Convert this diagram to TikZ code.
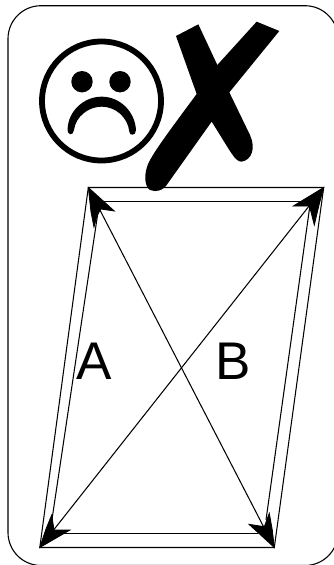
\documentclass[tikz,border=0pt]{standalone}
\usepackage{fontspec}
\setmainfont{Liberation Sans}
\tikzset{
  edgeline/.style={draw=black,line width=1.05pt},
  headfill/.style={fill=black,draw=black,line width=0.8pt,line join=miter},
  biglabel/.style={inner sep=0pt,font=\fontsize{53}{53}\selectfont,text=black},
  facepart/.style={fill=black,draw=none},
}
\begin{document}
\begin{tikzpicture}[x=1pt,y=-1pt]
\useasboundingbox (0,0) rectangle (334,565);
\clip (0,0) rectangle (334,565);
\fill[white] (0,0) rectangle (334,565);
% card
\draw[line width=1.1pt,rounded corners=33pt] (8,5.7) rectangle (338,565.5);
% face
\node[circle,draw=black,line width=5.8pt,minimum size=119pt,inner sep=0pt] (face) at (101.5,101) {};
\node[circle,facepart,minimum size=21.4pt,inner sep=0pt] (eyeL) at (82,81.7) {};
\node[circle,facepart,minimum size=21.4pt,inner sep=0pt] (eyeR) at (120,81.7) {};
\begin{scope}[scale=1/3]
% mouth
\fill[black] (203,385) .. controls (205,335) and (250,290) .. (305,290)
  .. controls (360,290) and (405,335) .. (408,390)
  .. controls (408,408) and (388,408) .. (388,395)
  .. controls (383,350) and (345,320) .. (305,320)
  .. controls (265,320) and (227,350) .. (222,390)
  .. controls (220,408) and (201,408) .. (203,385) -- cycle;
% cross
\fill[black] (528,108) -- (595,73) -- (652,195) -- (770,65) -- (838,93) -- (688,277)
  -- (750,405) .. controls (768,445) and (755,480) .. (725,485)
  .. controls (705,485) and (695,460) .. (635,365)
  -- (505,548) .. controls (490,572) and (470,578) .. (450,570)
  .. controls (432,558) and (432,520) .. (445,490)
  .. controls (460,460) and (480,430) .. (590,282) -- cycle;
\end{scope}
% corners
\coordinate (tl) at (88.3,187.5);
\coordinate (tr) at (323.7,187.5);
\coordinate (bl) at (39.8,547.5);
\coordinate (br) at (274.3,547.5);
\coordinate (tli) at (101,201.5);
\coordinate (tri) at (306,201.5);
\coordinate (bli) at (60,533.5);
\coordinate (bri) at (258,533.5);
\coordinate (tls) at (98,212);
\coordinate (bls) at (50.4,530);
\coordinate (trs) at (310,205);
\coordinate (brs) at (266,520);
% outer frame
\draw[edgeline] (tl) -- (tr) -- (br) -- (bl) -- cycle;
% inner connectors
\draw[edgeline] (tli) -- (tri);
\draw[edgeline] (bli) -- (bri);
\draw[edgeline] (tls) -- (bls);
\draw[edgeline] (trs) -- (brs);
% diagonals
\draw[edgeline] (tl) -- (br);
\draw[edgeline] (tr) -- (bl);
% arrowheads
\filldraw[headfill] (tl) -- (114.3,211) -- (100.7,209) -- (97,216) -- (94,227) -- (91,212) -- cycle;
\filldraw[headfill] (tr) -- (293.3,206) -- (309.3,206) -- (311,212) -- (314.3,225) -- (319,205) -- cycle;
\filldraw[headfill] (bl) -- (46,529) -- (51.7,515) -- (54,530) -- (70,530) -- cycle;
\filldraw[headfill] (br) -- (249,524.3) -- (264.3,526.7) -- (269.3,513.3) -- (272.3,530) -- cycle;
% labels
\node[biglabel,anchor=base] (labA) at (94,379) {A};
\node[biglabel,anchor=base] (labB) at (233,379) {B};
\end{tikzpicture}
\end{document}
